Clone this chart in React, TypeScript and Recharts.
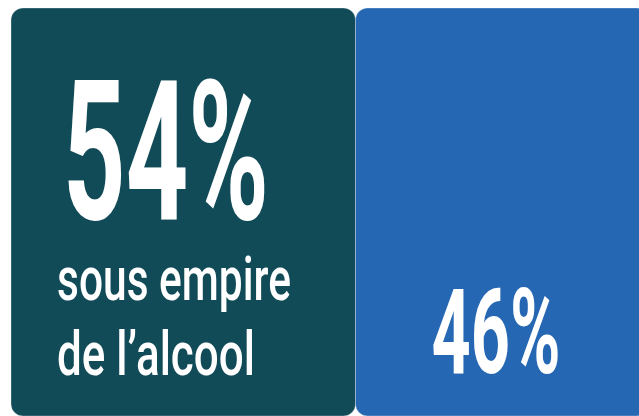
import React from "react";
import { BarChart, Bar, XAxis, YAxis } from "recharts";

const categories = ["Conducteurs"];
const underInfluence = [54];
const notUnderInfluence = [46];
const captionLines = ["sous empire", "de l’alcool"];

const data = categories.map((c, i) => ({
  name: c,
  alcool: underInfluence[i],
  autre: notUnderInfluence[i],
}));

const FONT = "Roboto, 'DejaVu Sans', sans-serif";
const TEAL = "#124B58";
const BLUE = "#2667B3";

function renderLeft(p: any) {
  const x = Number(p.x);
  const y = Number(p.y);
  const v = underInfluence[p.index ?? 0];
  return (
    <g fill="#ffffff" fontFamily={FONT}>
      <text x={x + 52} y={y + 211} fontSize={195} fontWeight={700} textLength={206} lengthAdjust="spacingAndGlyphs">
        {v}%
      </text>
      <text x={x + 46} y={y + 292} fontSize={62} fontWeight={500} textLength={234} lengthAdjust="spacingAndGlyphs">
        {captionLines[0]}
      </text>
      <text x={x + 46} y={y + 367} fontSize={62} fontWeight={500} textLength={198} lengthAdjust="spacingAndGlyphs">
        {captionLines[1]}
      </text>
    </g>
  );
}

function renderRight(p: any) {
  const x = Number(p.x);
  const y = Number(p.y);
  const v = notUnderInfluence[p.index ?? 0];
  return (
    <g fill="#ffffff" fontFamily={FONT}>
      <text x={x + 76} y={y + 365} fontSize={118} fontWeight={700} textLength={129} lengthAdjust="spacingAndGlyphs">
        {v}%
      </text>
    </g>
  );
}

export default function App() {
  return (
    <div
      style={{
        position: "fixed",
        left: 0,
        top: 0,
        width: 639,
        height: 416,
        overflow: "hidden",
        background: "#ffffff",
      }}
    >
      <BarChart
        width={660}
        height={416}
        data={data}
        layout="vertical"
        margin={{ top: 8, left: 11, right: 11, bottom: 0 }}
        barCategoryGap={0}
      >
        <XAxis type="number" domain={[0, 100]} hide />
        <YAxis type="category" dataKey="name" hide />
        <Bar
          dataKey="alcool"
          stackId="a"
          fill={TEAL}
          radius={12}
          stroke="#ffffff"
          strokeOpacity={0.5}
          strokeWidth={0.6}
          isAnimationActive={false}
          label={renderLeft}
        />
        <Bar
          dataKey="autre"
          stackId="a"
          fill={BLUE}
          radius={12}
          stroke="#ffffff"
          strokeOpacity={0.5}
          strokeWidth={0.6}
          isAnimationActive={false}
          label={renderRight}
        />
      </BarChart>
    </div>
  );
}
